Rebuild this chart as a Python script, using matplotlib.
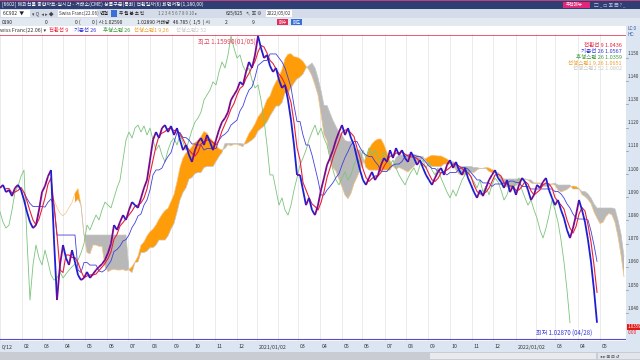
import numpy as np
import pandas as pd
import matplotlib
matplotlib.use('Agg')
import matplotlib.pyplot as plt
from matplotlib.collections import LineCollection
from matplotlib.patches import Rectangle

plt.rcParams['font.family'] = ['Noto Sans CJK KR', 'DejaVu Sans']

# 표본 하나 = 거래일 3일 (화면에서 읽은 종가)
STEP = 3
close = [
    1.0940, 1.0953, 1.0922, 1.0931, 1.0905, 1.0940, 1.0953, 1.0931, 1.0888, 1.0836,
    1.0793, 1.0767, 1.0780, 1.0845, 1.0922, 1.0948, 1.0990, 1.1017, 1.0716, 1.0457,
    1.0608, 1.0694, 1.0638, 1.0608, 1.0672, 1.0621, 1.0565, 1.0543, 1.0552, 1.0578,
    1.0552, 1.0569, 1.0586, 1.0600, 1.0612, 1.0630, 1.0660, 1.0700, 1.0780, 1.0759,
    1.0793, 1.0823, 1.0802, 1.0845, 1.0879, 1.0866, 1.0854, 1.0897, 1.0940, 1.0974,
    1.1060, 1.1147, 1.1181, 1.1155, 1.1198, 1.1211, 1.1181, 1.1207, 1.1168, 1.1198,
    1.1147, 1.1103, 1.1125, 1.1082, 1.1052, 1.1103, 1.1138, 1.1155, 1.1125, 1.1168,
    1.1138, 1.1103, 1.1147, 1.1190, 1.1224, 1.1241, 1.1267, 1.1319, 1.1341, 1.1362,
    1.1397, 1.1384, 1.1440, 1.1483, 1.1457, 1.1513, 1.1595, 1.1543, 1.1500, 1.1513,
    1.1466, 1.1440, 1.1457, 1.1405, 1.1371, 1.1384, 1.1319, 1.1233, 1.1125, 1.0996,
    1.0996, 1.0931, 1.0866, 1.0897, 1.0845, 1.0823, 1.0866, 1.0931, 1.0983, 1.1039,
    1.1069, 1.1103, 1.1147, 1.1181, 1.1211, 1.1168, 1.1198, 1.1155, 1.1125, 1.1069,
    1.1017, 1.0974, 1.0953, 1.0983, 1.1009, 1.0974, 1.0996, 1.1039, 1.1069, 1.1052,
    1.1103, 1.1069, 1.1112, 1.1082, 1.1103, 1.1069, 1.1052, 1.1095, 1.1069, 1.1039,
    1.1060, 1.1026, 1.0996, 1.0974, 1.0953, 1.0983, 1.1009, 1.1026, 1.0996, 1.1039,
    1.1060, 1.1026, 1.1052, 1.1017, 1.0996, 1.1026, 1.0983, 1.0953, 1.0922, 1.0897,
    1.0931, 1.0905, 1.0940, 1.0974, 1.0996, 1.1017, 1.0983, 1.0966, 1.0940, 1.0974,
    1.0922, 1.0948, 1.0910, 1.0953, 1.0983, 1.0966, 1.0931, 1.0888, 1.0910, 1.0953,
    1.0940, 1.0966, 1.0983, 1.0931, 1.0897, 1.0866, 1.0888, 1.0845, 1.0810, 1.0759,
    1.0724, 1.0767, 1.0823, 1.0888, 1.0845, 1.0793, 1.0716, 1.0621, 1.0500, 1.0359,
]

HIGH_VAL, HIGH_DATE = 1.15990, '01/05'
LOW_VAL, LOW_DATE = 1.02870, '04/28'

# 월 구분선 (거래일 위치) 과 라벨
month_pos = [0, 22, 42, 63, 85, 107, 128, 150, 172, 193, 215, 237,
             257, 278, 298, 320, 342, 362, 385, 406, 428, 450, 472, 493,
             516, 536, 555, 578, 600]
month_lbl = ['0/12', '02', '03', '04', '05', '06', '07', '08', '09', '10', '11', '12',
             '2021/01/02', '', '03', '04', '05', '06', '07', '08', '09', '10', '11', '12',
             '2022/01/02', '', '03', '04', '05']

price_ticks = [1.15, 1.14, 1.13, 1.12, 1.11, 1.10, 1.09, 1.08, 1.07, 1.06, 1.05, 1.04]

legend_names = ['전환선 9', '기준선 26', '후행스팬 26', '선행스팬1 9,26', '선행스팬2 52']
legend_vals = [1.0436, 1.0567, 1.0359, 1.0651, 1.0802]
legend_cols = ['#E8213A', '#3434D8', '#3A9A3A', '#F0A030', '#C8C8C8']
legend_x = [49, 74, 103, 134, 176]

C_UP = '#7A0A8C'
C_DN = '#1E1ED2'
C_CONV = '#E8213A'
C_BASE = '#4040E0'
C_LAG = '#7CC47C'
C_BULL = '#FF9C0A'
C_BEAR = '#B8B8B8'

W, H = 640, 360
PX = 0.000431   # 세로 1픽셀 당 가격


def fx(px):
    return px / W


def fy(py):
    return 1 - py / H


def price_at(py):
    return 1.175 - py * PX


fig = plt.figure(figsize=(6.4, 3.6), dpi=100, facecolor='white')


def band(x0, y0, x1, y1, color, z=0):
    fig.patches.append(Rectangle((fx(x0), fy(y1)), fx(x1) - fx(x0), fy(y0) - fy(y1),
                                 transform=fig.transFigure, facecolor=color,
                                 edgecolor='none', zorder=z))


def ftext(px, py, s, **kw):
    kw.setdefault('fontsize', 3.5)
    kw.setdefault('va', 'center')
    kw.setdefault('color', '#222222')
    fig.text(fx(px), fy(py), s, **kw)


# 상단 제목줄
band(0, 0, 640, 9, '#2F3E73')
band(0, 0, 640, 0.8, '#C04080', z=1)
ftext(2, 4.8, '[6602] 해외선물 종합차트-실시간 - 거래소(CME) 상품구분(통화) 전환일자(6) 화면저장(1,180,00)',
      color='white', fontsize=3.6)
band(563, 2, 590, 8, '#E0287A', z=1)
ftext(566, 5, '추천메뉴', color='white', fontsize=3.3)
ftext(594, 5, '▢ _ ▭ ▣ ▤ ? _', color='#C8D0E8', fontsize=3.3)

# 툴바
band(0, 9, 640, 18, '#D3DCE8')
band(1, 10, 30, 17, 'white', z=1)
ftext(3, 13.5, '6C902  ▼')
ftext(32, 13.5, '▾ Q  ◂ ▸ ◆', color='#444444')
band(58, 10, 98, 17, 'white', z=1)
ftext(59, 13.5, 'Swiss Franc(22.06)', color='#333333', fontsize=3.3)
ftext(100, 13.5, '연결')
band(111, 10, 117, 17, '#3A6FD8', z=1)
ftext(119, 13.5, '주 월 분 초 틱', fontsize=3.3)
ftext(158, 13.5, '1 2 3 4 5 6 7 8 9 10 ▸', color='#666666', fontsize=3.2)
ftext(226, 13.5, '625/625', fontsize=3.3)
ftext(246, 13.5, '↖ ▣ ⚙', color='#444444', fontsize=3.3)
band(266, 10, 292, 17, 'white', z=1)
ftext(267, 13.5, '2022/05/02', color='#333333', fontsize=3.3)

# 시세 줄
band(0, 18, 640, 26, '#E3E9F1')
ftext(2, 22, '0190')
ftext(45, 22, '0')
ftext(75, 22, '0 (')
ftext(92, 22, '0 ) 시:1.02590')
ftext(137, 22, '1.02890 거래량   46.785 (  1/5  ) 시')
ftext(225, 22, '2')
ftext(252, 22, '9')
band(277, 19, 288, 25, '#E0305A', z=1)
ftext(278.5, 22, '매수', color='white', fontsize=3.2)
band(291, 19, 302, 25, '#3A6FD8', z=1)
ftext(292.5, 22, '매도', color='white', fontsize=3.2)

# 범례 줄
band(0, 26, 626, 34, 'white')
ftext(0, 30, 'wiss Franc(22.06) ▾', color='#333333', fontsize=3.8)
for nm, col, lx in zip(legend_names, legend_cols, legend_x):
    ftext(lx, 30, nm, color=col, fontsize=3.9)

# 오른쪽 가격축
band(626, 26, 640, 341, '#DCE6F2')
ftext(627, 29, 'LC:0', color='#2F4FA0', fontsize=3.2)
ftext(627, 34, 'HC:', color='#2F4FA0', fontsize=3.2)

# 아래 날짜축 및 스크롤바
band(0, 341, 640, 352, '#DCE6F2')
band(0, 352, 640, 360, '#C9CDD3')
band(430, 353, 596, 359, '#E8EAEE', z=1)
band(598, 353, 640, 359, '#E2E5EA', z=1)
ftext(600, 356, '◂ ▸ ⊞ ⊟ ↺', color='#333333', fontsize=3.2)

# 메인 차트
ax = fig.add_axes([0, fy(341), 626 / W, (341 - 33) / H])
ax.set_xlim(0, 626)
ax.set_ylim(price_at(341), price_at(33))
ax.axis('off')

for p in month_pos:
    ax.axvline(p, color='#E8E8E8', lw=0.6, zorder=0)

c = pd.Series(close)
n = len(c)
conv = (c.rolling(3).max() + c.rolling(3).min()) / 2
base = (c.rolling(9).max() + c.rolling(9).min()) / 2
span1 = (conv + base) / 2
span2 = (c.rolling(17).max() + c.rolling(17).min()) / 2
shift = 9
x = np.arange(n) * STEP
x_lead = (np.arange(n) + shift) * STEP
x_lag = (np.arange(n) - shift) * STEP

s1 = span1.values
s2 = span2.values
ok = ~np.isnan(s1) & ~np.isnan(s2)
ax.fill_between(x_lead[ok], s1[ok], s2[ok], where=(s1[ok] >= s2[ok]), interpolate=True,
                color=C_BULL, lw=0, zorder=1)
ax.fill_between(x_lead[ok], s1[ok], s2[ok], where=(s1[ok] < s2[ok]), interpolate=True,
                color=C_BEAR, lw=0, zorder=1)
ax.plot(x_lead, s1, color='#F7C27A', lw=0.5, zorder=2)
ax.plot(x_lead, s2, color='#C4C4C4', lw=0.5, zorder=2)

ax.plot(x_lag, c.values, color=C_LAG, lw=0.6, zorder=3)
ax.plot(x, base, color=C_BASE, lw=0.6, zorder=3)
ax.plot(x, conv, color=C_CONV, lw=0.8, zorder=4)

pts = np.column_stack([x, c.values])
segs = np.stack([pts[:-1], pts[1:]], axis=1)
cols = [C_UP if b >= a else C_DN for a, b in zip(close[:-1], close[1:])]
ax.add_collection(LineCollection(segs, colors=cols, linewidths=1.3, zorder=5))

# 최고 / 최저
ax.axhline(HIGH_VAL, color='#E8405A', lw=0.6, zorder=2)
ax.axhline(LOW_VAL, color='#5A4ACD', lw=0.8, zorder=2)
ax.text(256, HIGH_VAL - 0.0013, f'최고 {HIGH_VAL:.5f}({HIGH_DATE})', color='#E8405A',
        fontsize=4.6, ha='right', va='top')
ax.text(592, LOW_VAL + 0.0012, f'최저 {LOW_VAL:.5f} ({LOW_DATE})', color='#3434D8',
        fontsize=4.4, ha='right', va='bottom')

# 오른쪽 위 범례 값
for i, (nm, v, col) in enumerate(zip(legend_names, legend_vals, legend_cols)):
    ax.text(622, price_at(45 + i * 6), f'{nm} {v:.4f}', color=col,
            fontsize=4, ha='right', va='center')

# 가격 라벨
for t in price_ticks:
    py = (1.175 - t) / PX
    ftext(627.5, py - 5, f'{t:.3f}', color='#333333', fontsize=3.3)
    fig.add_artist(plt.Line2D([fx(626), fx(628)], [fy(py), fy(py)], color='#8090A8', lw=0.5))

last = close[-1]
py_last = (1.175 - last) / PX
band(627, py_last + 1, 640, py_last + 7, '#E01818', z=2)
ftext(627.3, py_last + 4, f'{last:.4f}', color='white', fontsize=3.2, zorder=3)
ftext(628, py_last + 10, '0.00', color='#E01818', fontsize=3.4)

# 날짜 라벨
for p, lb in zip(month_pos, month_lbl):
    if lb:
        ftext(p + 1.5, 347, lb, color='#333333', fontsize=3.8)

fig.savefig('out.png', dpi=100, facecolor='white')
